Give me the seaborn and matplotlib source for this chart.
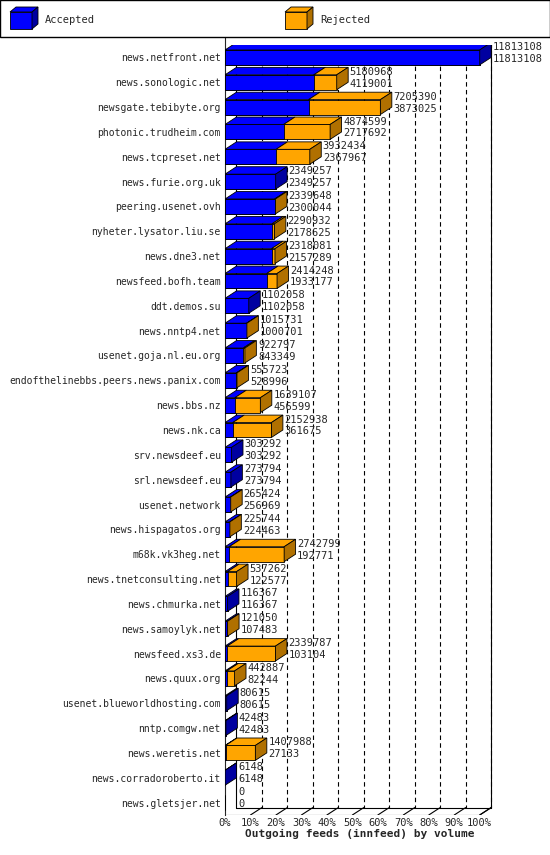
import matplotlib
matplotlib.use("Agg")
import matplotlib.pyplot as plt
import seaborn as sns
import numpy as np
import pandas as pd
from matplotlib.patches import Polygon, Rectangle

hosts = ["news.netfront.net","news.sonologic.net","newsgate.tebibyte.org","photonic.trudheim.com",
"news.tcpreset.net","news.furie.org.uk","peering.usenet.ovh","nyheter.lysator.liu.se","news.dne3.net",
"newsfeed.bofh.team","ddt.demos.su","news.nntp4.net","usenet.goja.nl.eu.org",
"endofthelinebbs.peers.news.panix.com","news.bbs.nz","news.nk.ca","srv.newsdeef.eu","srl.newsdeef.eu",
"usenet.network","news.hispagatos.org","m68k.vk3heg.net","news.tnetconsulting.net","news.chmurka.net",
"news.samoylyk.net","newsfeed.xs3.de","news.quux.org","usenet.blueworldhosting.com","nntp.comgw.net",
"news.weretis.net","news.corradoroberto.it","news.gletsjer.net"]
offered = [11813108,5180968,7205390,4874599,3932434,2349257,2339648,2290932,2318081,2414248,1102058,
1015731,922797,555723,1639107,2152938,303292,273794,265424,225744,2742799,537262,116367,121050,
2339787,442887,80615,42483,1407988,6148,0]
accepted = [11813108,4119001,3873025,2717692,2367967,2349257,2300044,2178625,2157289,1933177,1102058,
1000701,843349,528996,456599,361675,303292,273794,256969,224463,192771,122577,116367,107483,
103104,82244,80615,42483,27133,6148,0]
xticks = [0,10,20,30,40,50,60,70,80,90,100]

df = pd.DataFrame({"host": hosts, "offered": offered, "accepted": accepted})
mx = max(offered)
df["acc_pct"] = df.accepted / mx * 100
df["tot_pct"] = df.offered / mx * 100

sns.set_style("white")
plt.rcParams['font.family'] = ['DejaVu Sans Mono']
fig = plt.figure(figsize=(5.5, 8.55), dpi=100)
ax = fig.add_axes([225/550, 40/855, 270/550, 770/855])
BLUE, BLUE_D = "#0000ff", "#0000a0"
ORG, ORG_D = "#ffa500", "#b07000"
h = 0.6
dx, dy = 4.5, 0.3

ax.set_xlim(0, 106)
ax.set_ylim(len(hosts) - 0.2, -0.9)

for t in xticks[1:]:
    ax.plot([t + dx, t + dx], [-0.9, len(hosts) - 0.5 - dy], ls=(0, (4, 3)), color="black", lw=0.8, zorder=0)
    ax.plot([t, t + dx], [len(hosts) - 0.5, len(hosts) - 0.5 - dy], color="black", lw=0.8, zorder=0)
ax.plot([0, 100], [len(hosts) - 0.5] * 2, color="black", lw=0.8)
ax.plot([dx, 100 + dx], [len(hosts) - 0.5 - dy] * 2, color="black", lw=0.8)
ax.plot([100, 100 + dx], [len(hosts) - 0.5, len(hosts) - 0.5 - dy], color="black", lw=0.8)
ax.plot([100 + dx] * 2, [-0.9, len(hosts) - 0.5 - dy], color="black", lw=0.8)
ax.plot([dx] * 2, [-0.9, len(hosts) - 0.5 - dy], color="black", lw=0.8)

sns.barplot(data=df, y="host", x="tot_pct", color=ORG, orient="h", width=h, ax=ax, saturation=1,
            edgecolor="black", linewidth=0.6, zorder=3)
sns.barplot(data=df, y="host", x="acc_pct", color=BLUE, orient="h", width=h, ax=ax, saturation=1,
            edgecolor="black", linewidth=0.6, zorder=4)

for i, r in df.iterrows():
    if r.tot_pct <= 0:
        continue
    top = i - h / 2
    bot = i + h / 2
    a, t = r.acc_pct, r.tot_pct
    if a > 0:
        ax.add_patch(Polygon([[0, top], [a, top], [a + dx, top - dy], [dx, top - dy]],
                             fc=BLUE, ec="black", lw=0.6, zorder=5))
    if t > a:
        ax.add_patch(Polygon([[a, top], [t, top], [t + dx, top - dy], [a + dx, top - dy]],
                             fc=ORG, ec="black", lw=0.6, zorder=5))
    side = BLUE_D if t <= a else ORG_D
    ax.add_patch(Polygon([[t, top], [t + dx, top - dy], [t + dx, bot - dy], [t, bot]],
                         fc=side, ec="black", lw=0.6, zorder=5))
    ax.text(t + dx + 0.6, i - 0.42, str(r.offered), fontsize=7.5, va="center", ha="left", zorder=6)
    ax.text(t + dx + 0.6, i + 0.06, str(r.accepted), fontsize=7.5, va="center", ha="left", zorder=6)
ax.text(dx + 0.6, len(hosts) - 1.42, "0", fontsize=7.5, va="center")
ax.text(dx + 0.6, len(hosts) - 0.94, "0", fontsize=7.5, va="center")

ax.set_xticks(xticks)
ax.set_xticklabels([f"{t}%" for t in xticks], fontsize=7.5)
ax.tick_params(axis="y", labelsize=7, length=0, pad=3)
ax.tick_params(axis="x", length=0, pad=2)
ax.set_ylabel("")
ax.set_xlabel("Outgoing feeds (innfeed) by volume", fontsize=8, fontweight="bold", labelpad=1)
for s in ["top", "right"]:
    ax.spines[s].set_visible(False)
ax.spines["left"].set_bounds(-0.9, len(hosts) - 0.5)
ax.spines["bottom"].set_visible(False)
ax.spines["left"].set_linewidth(0.8)

fig.add_artist(Rectangle((0, 818/855), 1, 37/855, transform=fig.transFigure, fc="white", ec="black", lw=1))
X = lambda p: p / 550
Y = lambda p: 1 - p / 855
for x0, c, cd, lbl in [(10, BLUE, BLUE_D, "Accepted"), (285, ORG, ORG_D, "Rejected")]:
    fig.add_artist(Polygon([[X(x0), Y(29)], [X(x0 + 22), Y(29)], [X(x0 + 22), Y(12)], [X(x0), Y(12)]],
                           closed=True, transform=fig.transFigure, fc=c, ec="black", lw=0.6))
    fig.add_artist(Polygon([[X(x0), Y(12)], [X(x0 + 6), Y(7)], [X(x0 + 28), Y(7)], [X(x0 + 22), Y(12)]],
                           closed=True, transform=fig.transFigure, fc=c, ec="black", lw=0.6))
    fig.add_artist(Polygon([[X(x0 + 22), Y(12)], [X(x0 + 28), Y(7)], [X(x0 + 28), Y(24)], [X(x0 + 22), Y(29)]],
                           closed=True, transform=fig.transFigure, fc=cd, ec="black", lw=0.6))
    fig.text(X(x0 + 35), Y(20), lbl, fontsize=7.5, va="center")

fig.savefig("out.png", dpi=100)
